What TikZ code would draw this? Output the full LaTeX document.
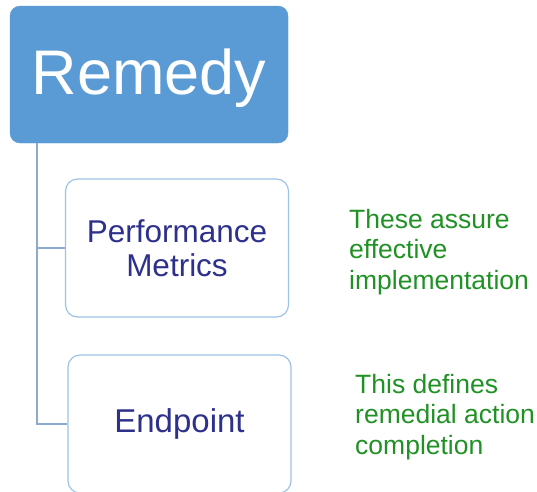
\documentclass[tikz,border=0pt]{standalone}
\usepackage{fontspec}
\setmainfont{Liberation Sans}
\usepackage{xcolor}
\usetikzlibrary{positioning}
\definecolor{headblue}{RGB}{91,155,213}
\definecolor{rimblue}{RGB}{157,195,230}
\definecolor{linkblue}{RGB}{142,170,208}
\definecolor{navytext}{RGB}{46,49,140}
\definecolor{notegreen}{RGB}{32,145,36}

\begin{document}
\begin{tikzpicture}[x=1pt, y=-1pt]
  \tikzset{
    headbox/.style={
      fill=headblue,
      draw=headblue,
      rounded corners=10pt,
      text=white,
      text height=54pt,
      minimum width=278pt,
      minimum height=137pt,
      font=\fontsize{63}{70}\selectfont,
    },
    itembox/.style={
      draw=rimblue,
      line width=1.2pt,
      fill=white,
      rounded corners=12pt,
      text=navytext,
      align=center,
      minimum width=223pt,
      minimum height=138pt,
    },
    link/.style={
      linkblue,
      line width=1.8pt,
    },
    note/.style={
      text=notegreen,
      align=left,
      anchor=west,
      inner sep=0pt,
      font=\fontsize{26.5}{30.5}\selectfont,
    }
  }

  \useasboundingbox (0,0) rectangle (537,491);

  % Head
  \node[headbox] (remedy) at (149,74.5) {Remedy};

  % Items
  \node[itembox, font=\fontsize{31.5}{33.5}\selectfont] (perf) at (177,248) {Performance\\Metrics};
  \node[itembox, font=\fontsize{33}{36}\selectfont] (endp) at (179.5,424) {Endpoint};

  % Tree lines
  \coordinate (trunk) at (37,143);
  \draw[link] (trunk) |- (perf.west);
  \draw[link] (trunk) |- (endp.west);

  % Notes
  \node[note] (perfnote) at (349,252) {These assure\\effective\\implementation};
  \node[note] (endpnote) at (355,417) {This defines\\remedial action\\completion};
\end{tikzpicture}
\end{document}
